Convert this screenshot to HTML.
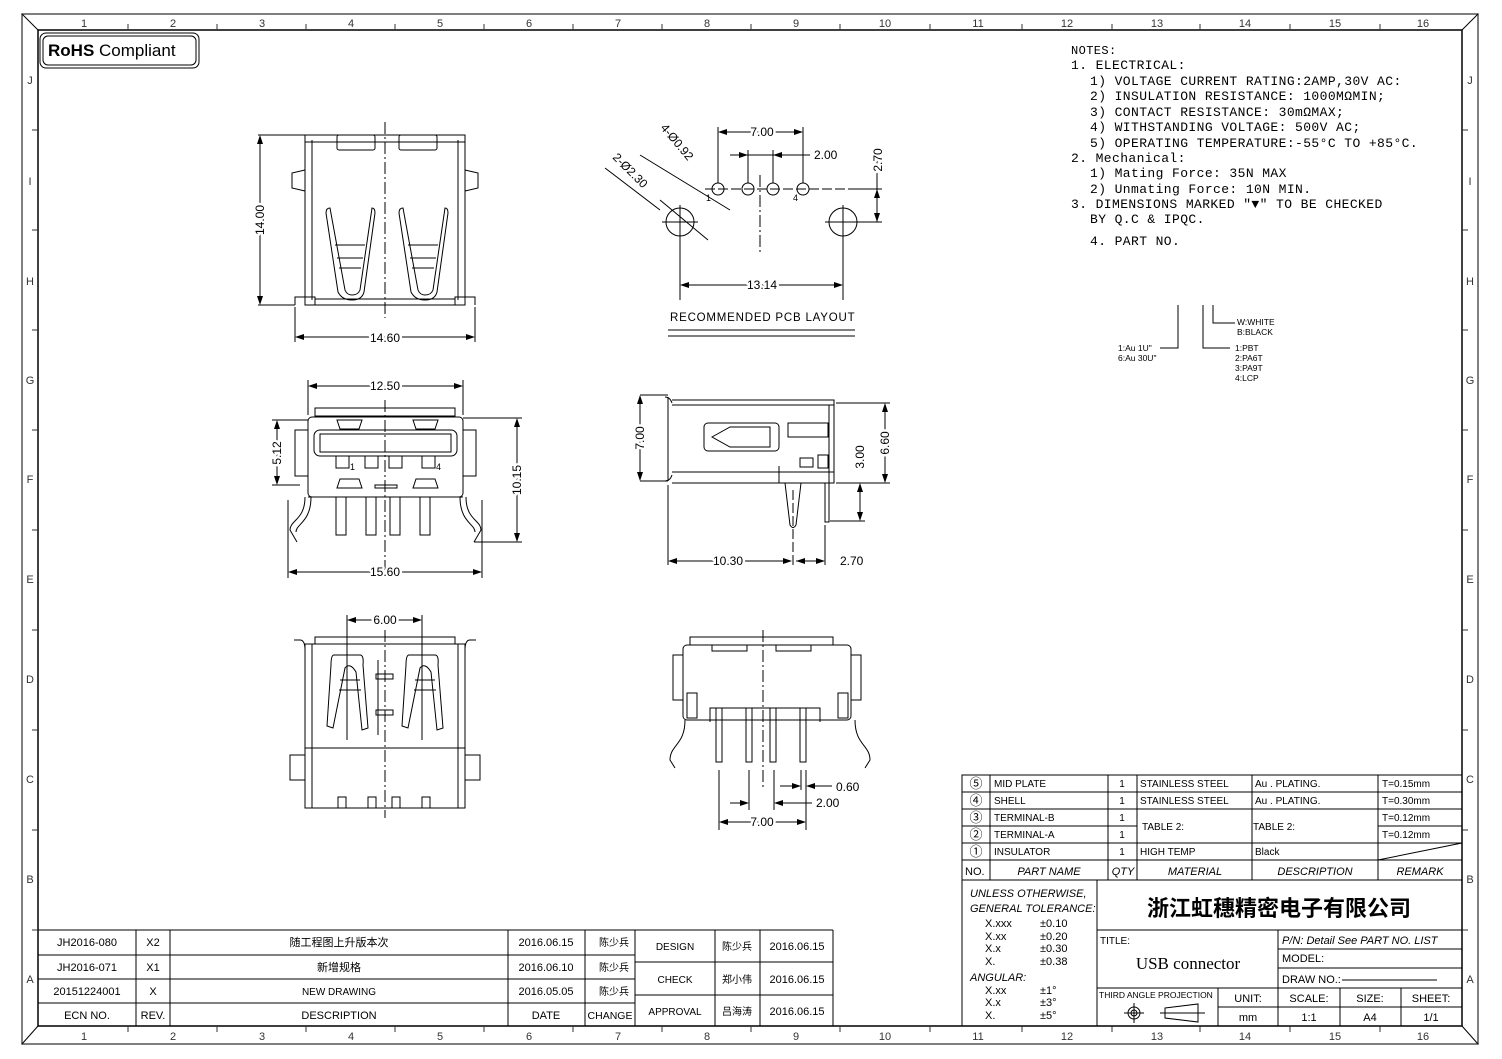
<!DOCTYPE html>
<html><head><meta charset="utf-8"><style>
html,body{margin:0;padding:0;background:#fff}
svg{display:block;font-family:"Liberation Sans","Noto Sans CJK SC",sans-serif}
.t{font-size:10px}
.d{font-size:12px;paint-order:stroke;stroke:#fff;stroke-width:5px;stroke-linejoin:round}
.n{font-size:13px;letter-spacing:0.4px}
</style></head><body>
<svg width="1502" height="1059" viewBox="0 0 1502 1059" xmlns="http://www.w3.org/2000/svg" fill="none" stroke="#000" stroke-width="1">
<!-- frame -->
<rect x="22" y="14" width="1456" height="1030" stroke-width="1.5" stroke="#555"/>
<rect x="38" y="30" width="1424" height="996" stroke-width="1.5"/>
<line x1="22" y1="14" x2="38" y2="30"/><line x1="1478" y1="14" x2="1462" y2="30"/>
<line x1="22" y1="1044" x2="38" y2="1026"/><line x1="1478" y1="1044" x2="1462" y2="1026"/>
<g fill="#333" stroke="none" font-size="11" text-anchor="middle">
<text x="84" y="27">1</text><text x="173" y="27">2</text><text x="262" y="27">3</text><text x="351" y="27">4</text><text x="440" y="27">5</text><text x="529" y="27">6</text><text x="618" y="27">7</text><text x="707" y="27">8</text><text x="796" y="27">9</text><text x="885" y="27">10</text><text x="978" y="27">11</text><text x="1067" y="27">12</text><text x="1157" y="27">13</text><text x="1245" y="27">14</text><text x="1335" y="27">15</text><text x="1423" y="27">16</text>
<text x="84" y="1040">1</text><text x="173" y="1040">2</text><text x="262" y="1040">3</text><text x="351" y="1040">4</text><text x="440" y="1040">5</text><text x="529" y="1040">6</text><text x="618" y="1040">7</text><text x="707" y="1040">8</text><text x="796" y="1040">9</text><text x="885" y="1040">10</text><text x="978" y="1040">11</text><text x="1067" y="1040">12</text><text x="1157" y="1040">13</text><text x="1245" y="1040">14</text><text x="1335" y="1040">15</text><text x="1423" y="1040">16</text>
<text x="30" y="84">J</text><text x="30" y="185">I</text><text x="30" y="285">H</text><text x="30" y="384">G</text><text x="30" y="483">F</text><text x="30" y="583">E</text><text x="30" y="683">D</text><text x="30" y="783">C</text><text x="30" y="883">B</text><text x="30" y="983">A</text>
<text x="1470" y="84">J</text><text x="1470" y="185">I</text><text x="1470" y="285">H</text><text x="1470" y="384">G</text><text x="1470" y="483">F</text><text x="1470" y="583">E</text><text x="1470" y="683">D</text><text x="1470" y="783">C</text><text x="1470" y="883">B</text><text x="1470" y="983">A</text>
</g>
<g stroke="#333">
<path d="M128 24V30M217 24V30M306 24V30M395 24V30M484 24V30M573 24V30M662 24V30M751 24V30M840 24V30M930 24V30M1022 24V30M1112 24V30M1200 24V30M1290 24V30M1380 24V30"/>
<path d="M128 1026V1032M217 1026V1032M306 1026V1032M395 1026V1032M484 1026V1032M573 1026V1032M662 1026V1032M751 1026V1032M840 1026V1032M930 1026V1032M1022 1026V1032M1112 1026V1032M1200 1026V1032M1290 1026V1032M1380 1026V1032"/>
<path d="M32 130H38M32 230H38M32 330H38M32 430H38M32 530H38M32 630H38M32 730H38M32 830H38M32 930H38"/>
<path d="M1462 130H1468M1462 230H1468M1462 330H1468M1462 430H1468M1462 530H1468M1462 630H1468M1462 730H1468M1462 830H1468M1462 930H1468"/>
</g>
<!-- RoHS -->
<rect x="40" y="33" width="159" height="35" rx="6"/><rect x="43" y="36" width="153" height="29" rx="5"/>
<text x="48" y="56" stroke="none" fill="#000" font-size="17"><tspan font-weight="bold">RoHS</tspan> Compliant</text>

<!-- VIEW 1 top -->
<g>
<rect x="305" y="135" width="160" height="170"/>
<line x1="312" y1="140" x2="312" y2="300"/><line x1="458" y1="140" x2="458" y2="300"/>
<line x1="305" y1="142" x2="465" y2="142"/>
<rect x="337" y="135" width="38" height="15" rx="2"/><rect x="399" y="135" width="38" height="15" rx="2"/>
<path d="M305 170 L292 173 L292 188 L305 191"/><path d="M465 170 L478 173 L478 188 L465 191"/>
<path d="M295 305V297H315V305M475 305V297H455V305"/><line x1="315" y1="299" x2="455" y2="299"/>
<path d="M326 213 Q326 208 330 208 L345 290 Q347 295 352 295 Q358 295 360 290 L372 208 Q375 208 375 213 L364 292 Q362 300 352 300 Q342 300 338 292 Z"/>
<path d="M335 245H365M337 258H363M339 268H361"/>
<path d="M399 213 Q399 208 403 208 L418 290 Q420 295 425 295 Q431 295 433 290 L445 208 Q448 208 448 213 L437 292 Q435 300 425 300 Q415 300 411 292 Z"/>
<path d="M408 245H438M410 258H436M412 268H434"/>
<line x1="385" y1="122" x2="385" y2="318" stroke-dasharray="12 3 2 3"/>
<path d="M258 135H305M258 305H295M260 137V303M295 307V342M475 307V342M297 337H473"/>
</g>
<g stroke="none" fill="#000">
<path d="M260 135l-3 9h6zM260 305l-3-9h6zM295 337l9-3v6zM475 337l-9-3v6z"/>
<text class="d" x="385" y="342" text-anchor="middle">14.60</text>
<text class="d" transform="translate(264,220) rotate(-90)" text-anchor="middle">14.00</text>
</g>

<!-- PCB layout -->
<g>
<circle cx="718" cy="189" r="6"/><circle cx="748" cy="189" r="6"/><circle cx="773" cy="189" r="6"/><circle cx="803" cy="189" r="6"/>
<circle cx="680" cy="222" r="14"/><circle cx="843" cy="222" r="14"/>
<line x1="705" y1="189" x2="880" y2="189" stroke-dasharray="10 3"/>
<line x1="760" y1="175" x2="760" y2="255" stroke-dasharray="12 3 2 3"/>
<path d="M662 222H698M825 222H862M680 205V300M843 205V300M718 127V183M803 127V183M748 150V183M773 150V183"/>
<path d="M720 132H801M730 155H810M682 285H841M858 189H882M858 222H882M877 160V222"/>
<path d="M660 200L708 240M605 168L660 210M640 155L730 210"/>
<line x1="668" y1="330" x2="855" y2="330"/><line x1="668" y1="336" x2="855" y2="336"/>
</g>
<g stroke="none" fill="#000">
<path d="M718 132l9-3v6zM803 132l-9-3v6zM773 155l9-3v6zM748 155l-9-3v6zM680 285l9-3v6zM843 285l-9-3v6zM877 189l-3 9h6zM877 222l-3-9h6z"/>
<text class="d" x="762" y="136" text-anchor="middle">7.00</text>
<text class="d" x="814" y="159">2.00</text>
<text class="d" x="762" y="289" text-anchor="middle">13.14</text>
<text class="d" transform="translate(882,160) rotate(-90)" text-anchor="middle">2.70</text>
<text class="d" transform="translate(660,128) rotate(50)">4-Ø0.92</text>
<text class="d" transform="translate(612,158) rotate(45)">2-Ø2.30</text>
<text font-size="9" x="706" y="201">1</text><text font-size="9" x="793" y="201">4</text>
<text x="670" y="321" font-size="11.5" letter-spacing="0.8">RECOMMENDED PCB LAYOUT</text>
</g>

<!-- VIEW front -->
<g>
<rect x="315" y="408" width="140" height="8"/>
<rect x="308" y="417" width="155" height="80" rx="4"/>
<rect x="314" y="430" width="143" height="26" rx="6"/>
<rect x="320" y="434" width="131" height="18"/>
<rect x="295" y="430" width="13" height="46"/><rect x="463" y="430" width="13" height="46"/>
<path d="M337 420h25l-3 9h-19zM413 420h25l-3 9h-19zM337 488h25l-3-9h-19zM413 488h25l-3-9h-19zM375 485h22v3h-22z"/>
<rect x="336" y="456" width="13" height="12"/><rect x="365" y="456" width="13" height="12"/><rect x="389" y="456" width="13" height="12"/><rect x="422" y="456" width="13" height="12"/>
<path d="M308 497H463M336 497V535H346V497M366 497V535H376V497M390 497V535H400V497M420 497V535H430V497"/>
<path d="M305 497 C305 520 290 520 290 530 L297 542 M311 497 C311 522 296 524 296 532"/>
<path d="M466 497 C466 520 481 520 481 530 L474 542 M460 497 C460 522 475 524 475 532"/>
<line x1="385" y1="400" x2="385" y2="570" stroke-dasharray="12 3 2 3"/>
<path d="M308 380V415M463 380V415M310 386H461M272 420H308M272 485H300M277 422V483M463 418H522M474 542H522M517 420V540M288 500V578M482 500V578M290 572H480"/>
</g>
<g stroke="none" fill="#000">
<path d="M308 386l9-3v6zM463 386l-9-3v6zM277 420l-3 9h6zM277 485l-3-9h6zM517 418l-3 9h6zM517 542l-3-9h6zM288 572l9-3v6zM482 572l-9-3v6z"/>
<text class="d" x="385" y="390" text-anchor="middle">12.50</text>
<text class="d" x="385" y="576" text-anchor="middle">15.60</text>
<text class="d" transform="translate(281,453) rotate(-90)" text-anchor="middle">5.12</text>
<text class="d" transform="translate(521,480) rotate(-90)" text-anchor="middle">10.15</text>
<text font-size="9" x="350" y="470">1</text><text font-size="9" x="436" y="470">4</text>
</g>

<!-- side view -->
<g>
<path d="M668 397V481M672 400H834V483H672M672 405H834M672 472H834"/>
<path d="M665 397q5 0 7 6M665 481q5 0 7-6"/>
<rect x="704" y="423" width="75" height="28" rx="4"/>
<path d="M712 437L730 427H770V447H730Z"/>
<rect x="788" y="423" width="40" height="14"/><rect x="800" y="458" width="13" height="9"/><rect x="818" y="455" width="10" height="13"/>
<path d="M779 466V483M785 483L790 525Q793 530 796 525L801 483M825 483V522H829V483"/>
<path d="M829 405V483"/>
<line x1="793" y1="490" x2="793" y2="565" stroke-dasharray="10 3"/>
<path d="M640 395H668M640 481H668M640 397V479M836 403H890M836 483H890M885 405V481M830 521H865M860 485V519M668 485V565M825 525V565M670 561H790M796 561H823"/>
</g>
<g stroke="none" fill="#000">
<path d="M640 395l-3 9h6zM640 481l-3-9h6zM885 403l-3 9h6zM885 483l-3-9h6zM860 483l-3 9h6zM860 521l-3-9h6zM668 561l9-3v6zM792 561l-9-3v6zM796 561l9-3v6zM825 561l-9-3v6z"/>
<text class="d" x="728" y="565" text-anchor="middle">10.30</text>
<text class="d" x="840" y="565">2.70</text>
<text class="d" transform="translate(644,438) rotate(-90)" text-anchor="middle">7.00</text>
<text class="d" transform="translate(889,443) rotate(-90)" text-anchor="middle">6.60</text>
<text class="d" transform="translate(864,457) rotate(-90)" text-anchor="middle">3.00</text>
</g>

<!-- bottom view left -->
<g>
<rect x="315" y="637" width="140" height="7"/>
<rect x="305" y="644" width="160" height="164"/>
<path d="M312 644V808M458 644V808M305 748H465M294 640H300Q305 640 305 650M476 640H470Q465 640 465 650"/>
<path d="M290 755H305V780H290ZM480 755H465V780H480Z"/>
<path d="M334 655H360Q364 655 363 665L368 728L362 730L356 672Q350 662 345 668L333 728L327 726L331 665Q331 655 334 655Z"/>
<path d="M340 680H360M339 690H361"/>
<path d="M409 655H435Q439 655 438 665L443 728L437 730L431 672Q425 662 420 668L408 728L402 726L406 665Q406 655 409 655Z"/>
<path d="M415 680H435M414 690H436"/>
<rect x="376" y="674" width="17" height="5"/><rect x="376" y="710" width="17" height="5"/>
<path d="M378 660V735"/>
<path d="M338 808V797H346V808M368 808V797H376V808M392 808V797H400V808M422 808V797H430V808"/>
<line x1="385" y1="630" x2="385" y2="818" stroke-dasharray="12 3 2 3"/>
<path d="M347 615V740M422 615V740M349 620H420"/>
</g>
<g stroke="none" fill="#000"><path d="M347 620l9-3v6zM422 620l-9-3v6z"/><text class="d" x="385" y="624" text-anchor="middle">6.00</text></g>

<!-- bottom view right -->
<g>
<rect x="690" y="637" width="143" height="8"/>
<rect x="683" y="645" width="168" height="75" rx="4"/>
<path d="M712 645v6h35v-6M776 645v6h35v-6"/>
<rect x="673" y="655" width="10" height="45"/><rect x="851" y="655" width="10" height="45"/>
<rect x="687" y="693" width="10" height="25"/><rect x="838" y="693" width="10" height="25"/>
<path d="M710 722V708H820V722"/>
<path d="M716 708V762h6V708M746 708V762h6V708M770 708V762h6V708M800 708V762h6V708"/>
<path d="M685 720C685 745 670 745 670 760L675 768M855 720C855 745 870 745 870 760L865 768"/>
<line x1="763" y1="630" x2="763" y2="790" stroke-dasharray="12 3 2 3"/>
<path d="M719 770V830M806 770V830M749 770V810M774 770V810M801 770V790M780 786H799M808 786H832M730 803H747M776 803H812M721 822H804"/>
</g>
<g stroke="none" fill="#000">
<path d="M801 786l-9-3v6zM806 786l9-3v6zM749 803l-9-3v6zM774 803l9-3v6zM719 822l9-3v6zM806 822l-9-3v6z"/>
<text class="d" x="836" y="791">0.60</text><text class="d" x="816" y="807">2.00</text><text class="d" x="762" y="826" text-anchor="middle">7.00</text>
</g>

<!-- notes -->
<g stroke="none" fill="#000" class="n" font-family="Liberation Mono,monospace">
<text x="1071" y="54" font-size="12">NOTES:</text>
<text x="1071" y="69">1. ELECTRICAL:</text>
<text x="1090" y="85">1) VOLTAGE CURRENT RATING:2AMP,30V AC:</text>
<text x="1090" y="100">2) INSULATION RESISTANCE: 1000MΩMIN;</text>
<text x="1090" y="116">3) CONTACT RESISTANCE: 30mΩMAX;</text>
<text x="1090" y="131">4) WITHSTANDING VOLTAGE: 500V AC;</text>
<text x="1090" y="147">5) OPERATING TEMPERATURE:-55°C TO +85°C.</text>
<text x="1071" y="162">2. Mechanical:</text>
<text x="1090" y="177">1) Mating Force: 35N  MAX</text>
<text x="1090" y="193">2) Unmating Force: 10N  MIN.</text>
<text x="1071" y="208">3. DIMENSIONS MARKED "▼" TO BE CHECKED</text>
<text x="1090" y="223">BY Q.C &amp; IPQC.</text>
<text x="1090" y="245">4. PART NO.</text>
</g>
<path d="M1178 305V348H1160M1203 305V348H1230M1213 305V323H1235"/>
<g stroke="none" fill="#000" font-size="8.5">
<text x="1237" y="325">W:WHITE</text><text x="1237" y="335">B:BLACK</text>
<text x="1118" y="351">1:Au 1U"</text><text x="1118" y="361">6:Au 30U"</text>
<text x="1235" y="351">1:PBT</text><text x="1235" y="361">2:PA6T</text><text x="1235" y="371">3:PA9T</text><text x="1235" y="381">4:LCP</text>
</g>

<!-- parts table -->
<g>
<rect x="962" y="775" width="500" height="105"/>
<path d="M962 792H1462M962 809H1462M962 826H1137M1378 826H1462M962 843H1462M962 860H1462"/>
<path d="M990 775V880M1108 775V880M1137 775V880M1252 775V880M1378 775V880M1378 860L1462 843"/>
</g>
<g stroke="none" fill="#000" class="t">
<text x="976" y="788" text-anchor="middle" font-size="13">⑤</text><text x="976" y="805" text-anchor="middle" font-size="13">④</text><text x="976" y="822" text-anchor="middle" font-size="13">③</text><text x="976" y="839" text-anchor="middle" font-size="13">②</text><text x="976" y="856" text-anchor="middle" font-size="13">①</text>
<text x="994" y="787">MID PLATE</text><text x="994" y="804">SHELL</text><text x="994" y="821">TERMINAL-B</text><text x="994" y="838">TERMINAL-A</text><text x="994" y="855">INSULATOR</text>
<text x="1122" y="787" text-anchor="middle">1</text><text x="1122" y="804" text-anchor="middle">1</text><text x="1122" y="821" text-anchor="middle">1</text><text x="1122" y="838" text-anchor="middle">1</text><text x="1122" y="855" text-anchor="middle">1</text>
<text x="1140" y="787">STAINLESS STEEL</text><text x="1140" y="804">STAINLESS STEEL</text><text x="1142" y="830">TABLE 2:</text><text x="1140" y="855">HIGH TEMP</text>
<text x="1255" y="787">Au . PLATING.</text><text x="1255" y="804">Au . PLATING.</text><text x="1253" y="830">TABLE 2:</text><text x="1255" y="855">Black</text>
<text x="1382" y="787">T=0.15mm</text><text x="1382" y="804">T=0.30mm</text><text x="1382" y="821">T=0.12mm</text><text x="1382" y="838">T=0.12mm</text>
<text x="965" y="875" font-size="11">NO.</text><text x="1049" y="875" font-size="11" text-anchor="middle" font-style="italic">PART NAME</text><text x="1123" y="875" font-size="11" text-anchor="middle" font-style="italic">QTY</text><text x="1195" y="875" font-size="11" text-anchor="middle" font-style="italic">MATERIAL</text><text x="1315" y="875" font-size="11" text-anchor="middle" font-style="italic">DESCRIPTION</text><text x="1420" y="875" font-size="11" text-anchor="middle" font-style="italic">REMARK</text>
</g>

<!-- title block -->
<g>
<rect x="962" y="880" width="500" height="146"/>
<path d="M1097 880V1026M1097 930H1462M1278 930V1026M1278 949H1462M1278 968H1462M1097 988H1462M1218 988V1026M1218 1007H1462M1340 988V1026M1401 988V1026"/>
<circle cx="1134" cy="1013" r="6"/><circle cx="1134" cy="1013" r="3"/><path d="M1124 1013H1144M1134 1003V1023"/>
<path d="M1165 1008L1198 1004V1022L1165 1018ZM1160 1013H1205"/>
<path d="M1342 980H1437"/>
</g>
<g stroke="none" fill="#000" font-size="11">
<text x="970" y="897" font-style="italic">UNLESS OTHERWISE,</text><text x="970" y="912" font-style="italic">GENERAL TOLERANCE:</text>
<text x="985" y="927">X.xxx</text><text x="1040" y="927">±0.10</text>
<text x="985" y="940">X.xx</text><text x="1040" y="940">±0.20</text>
<text x="985" y="952">X.x</text><text x="1040" y="952">±0.30</text>
<text x="985" y="965">X.</text><text x="1040" y="965">±0.38</text>
<text x="970" y="981" font-style="italic">ANGULAR:</text>
<text x="985" y="994">X.xx</text><text x="1040" y="994">±1°</text>
<text x="985" y="1006">X.x</text><text x="1040" y="1006">±3°</text>
<text x="985" y="1019">X.</text><text x="1040" y="1019">±5°</text>
<text x="1279" y="916" font-size="22" font-weight="bold" text-anchor="middle" font-family="Noto Sans CJK SC,sans-serif">浙江虹穗精密电子有限公司</text>
<text x="1100" y="944" font-size="10">TITLE:</text>
<text x="1188" y="969" font-size="17" text-anchor="middle" font-family="Liberation Serif,serif">USB connector</text>
<text x="1282" y="944" font-style="italic">P/N: Detail  See  PART  NO.  LIST</text>
<text x="1282" y="962">MODEL:</text>
<text x="1282" y="983">DRAW  NO.:</text>
<text x="1099" y="998" font-size="8.5">THIRD ANGLE PROJECTION</text>
<text x="1248" y="1002" text-anchor="middle">UNIT:</text><text x="1248" y="1021" text-anchor="middle">mm</text>
<text x="1309" y="1002" text-anchor="middle">SCALE:</text><text x="1309" y="1021" text-anchor="middle">1:1</text>
<text x="1370" y="1002" text-anchor="middle">SIZE:</text><text x="1370" y="1021" text-anchor="middle">A4</text>
<text x="1431" y="1002" text-anchor="middle">SHEET:</text><text x="1431" y="1021" text-anchor="middle">1/1</text>
</g>

<!-- revision block -->
<g>
<path d="M38 930H833M38 955H635M38 979H635M38 1003H635M136 930V1026M170 930V1026M508 930V1026M585 930V1026M635 930V1026"/>
<path d="M635 962H833M635 995H833M715 930V1026M760 930V1026M833 930V1026"/>
</g>
<g stroke="none" fill="#000" font-size="11" text-anchor="middle">
<text x="87" y="946">JH2016-080</text><text x="153" y="946">X2</text><text x="339" y="946" font-family="Noto Sans CJK SC,sans-serif">随工程图上升版本次</text><text x="546" y="946">2016.06.15</text><text x="614" y="946" font-family="Noto Sans CJK SC,sans-serif" font-size="10">陈少兵</text>
<text x="87" y="971">JH2016-071</text><text x="153" y="971">X1</text><text x="339" y="971" font-family="Noto Sans CJK SC,sans-serif">新增规格</text><text x="546" y="971">2016.06.10</text><text x="614" y="971" font-family="Noto Sans CJK SC,sans-serif" font-size="10">陈少兵</text>
<text x="87" y="995">20151224001</text><text x="153" y="995">X</text><text x="339" y="995" font-size="10">NEW DRAWING</text><text x="546" y="995">2016.05.05</text><text x="614" y="995" font-family="Noto Sans CJK SC,sans-serif" font-size="10">陈少兵</text>
<text x="87" y="1019">ECN  NO.</text><text x="153" y="1019">REV.</text><text x="339" y="1019">DESCRIPTION</text><text x="546" y="1019">DATE</text><text x="610" y="1019" font-size="10.5">CHANGE</text>
<text x="675" y="950" font-size="10">DESIGN</text><text x="737" y="950" font-family="Noto Sans CJK SC,sans-serif" font-size="10">陈少兵</text><text x="797" y="950">2016.06.15</text>
<text x="675" y="983" font-size="10">CHECK</text><text x="737" y="983" font-family="Noto Sans CJK SC,sans-serif" font-size="10">郑小伟</text><text x="797" y="983">2016.06.15</text>
<text x="675" y="1015" font-size="10">APPROVAL</text><text x="737" y="1015" font-family="Noto Sans CJK SC,sans-serif" font-size="10">吕海涛</text><text x="797" y="1015">2016.06.15</text>
</g>
</svg>
</body></html>
